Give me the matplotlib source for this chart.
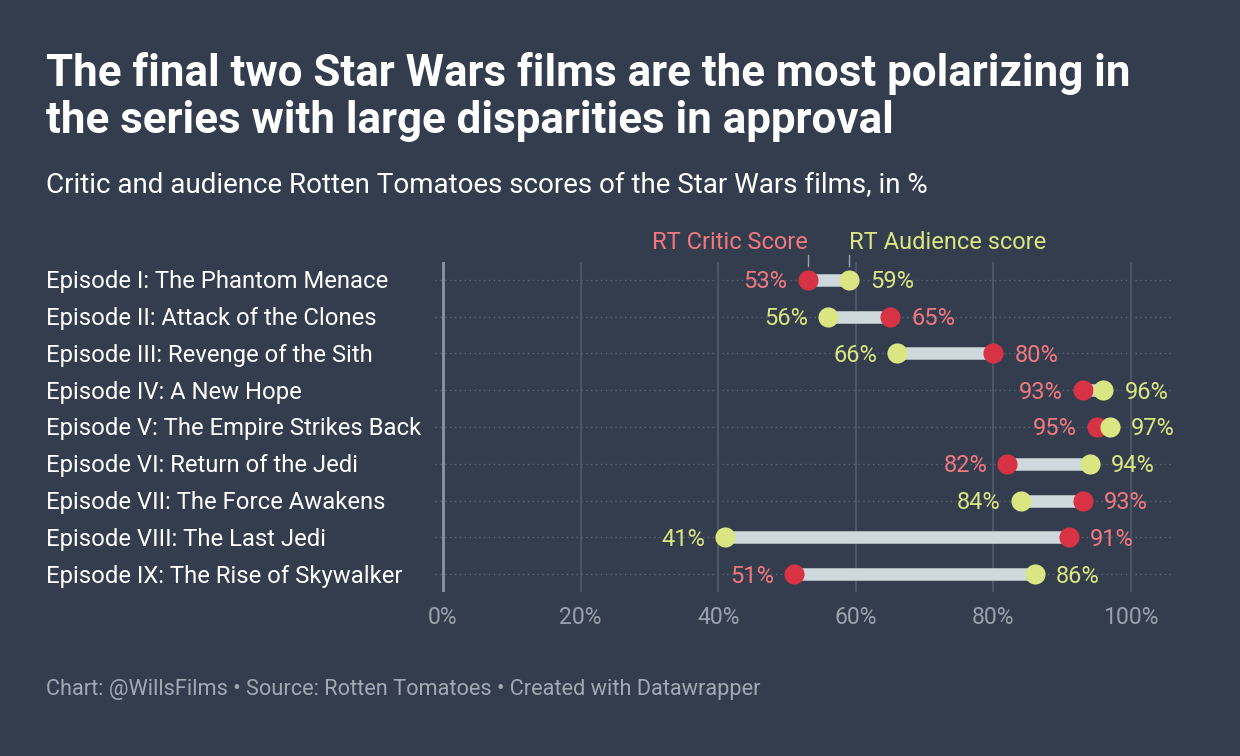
import numpy as np
import matplotlib.pyplot as plt
from matplotlib import transforms

plt.rcParams['font.family'] = ['Roboto', 'DejaVu Sans']

films = ['Episode I: The Phantom Menace', 'Episode II: Attack of the Clones',
         'Episode III: Revenge of the Sith', 'Episode IV: A New Hope',
         'Episode V: The Empire Strikes Back', 'Episode VI: Return of the Jedi',
         'Episode VII: The Force Awakens', 'Episode VIII: The Last Jedi',
         'Episode IX: The Rise of Skywalker']
critic = [53, 65, 80, 93, 95, 82, 93, 91, 51]
audience = [59, 56, 66, 96, 97, 94, 84, 41, 86]
xticks = [0, 20, 40, 60, 80, 100]

bg = '#333d4e'
red = '#d83344'
red_txt = '#f2787f'
yel = '#d9e682'
bar_col = '#cfd8dc'

W, H = 1240, 756
fig = plt.figure(figsize=(W / 100, H / 100), dpi=100, facecolor=bg)

# axes placed in pixel coords
left, right, top, bottom = 435, 1172, 261.6, 592.4
ax = fig.add_axes([left / W, 1 - bottom / H, (right - left) / W, (bottom - top) / H])
ax.set_facecolor(bg)
px_per = (1131 - 443) / 100
ax.set_xlim(-(443 - left) / px_per, (right - 443) / px_per)
ax.set_ylim(8.5, -0.5)
for s in ax.spines.values():
    s.set_visible(False)

y = np.arange(len(films))
for i in y:
    ax.axhline(i, color='#5a6576', lw=1, ls=(0, (1, 2.5)), zorder=0)
for t in xticks:
    ax.axvline(t, color='#8d94a0' if t == 0 else '#4b5565', lw=2 if t == 0 else 1.5, zorder=1)

for i in y:
    c, a = critic[i], audience[i]
    ax.plot([c, a], [i, i], color=bar_col, lw=9, solid_capstyle='butt', zorder=2)
    ax.plot(c, i, 'o', ms=14.5, color=red, mec='none', zorder=3)
    ax.plot(a, i, 'o', ms=14.5, color=yel, mec='none', zorder=4)
    lo, hi = min(c, a), max(c, a)
    lo_col = red_txt if c <= a else yel
    hi_col = yel if c <= a else red_txt
    ax.annotate(f'{lo}%', (lo, i), xytext=(-20, -2), textcoords='offset pixels',
                ha='right', va='center', fontsize=17, color=lo_col)
    ax.annotate(f'{hi}%', (hi, i), xytext=(21, -2), textcoords='offset pixels',
                ha='left', va='center', fontsize=17, color=hi_col)

# film names
trans = transforms.blended_transform_factory(fig.transFigure, ax.transData)
trans = transforms.offset_copy(trans, fig=fig, x=0, y=-2, units='dots')
for i, f in zip(y, films):
    ax.text(46 / W, i, f, transform=trans, ha='left', va='center',
            fontsize=17.2, color='white')

ax.set_yticks([])
ax.set_xticks(xticks)
ax.set_xticklabels([f'{t}%' for t in xticks], color='#9aa1ab', fontsize=16.6)
ax.tick_params(axis='x', length=0, pad=10)

# legend labels on the first row
ax.annotate('RT Critic Score', (critic[0], 0), xytext=(0, 37), textcoords='offset pixels',
            ha='right', va='center', fontsize=17, color=red_txt)
ax.annotate('RT Audience score', (audience[0], 0), xytext=(0, 37), textcoords='offset pixels',
            ha='left', va='center', fontsize=17, color=yel)
for v in (critic[0], audience[0]):
    ax.plot([v, v], [-0.68, -0.38], color='#9aa1ab', lw=1, clip_on=False, zorder=5)

fig.text(46 / W, 1 - 97 / H, 'The final two Star Wars films are the most polarizing in\nthe series with large disparities in approval',
         ha='left', va='center', fontsize=31.6, fontweight='bold', color='white', linespacing=1.17)
fig.text(46 / W, 1 - 186 / H, 'Critic and audience Rotten Tomatoes scores of the Star Wars films, in %',
         ha='left', va='center', fontsize=20, color='white')
fig.text(46 / W, 1 - 689 / H, 'Chart: @WillsFilms • Source: Rotten Tomatoes • Created with Datawrapper',
         ha='left', va='center', fontsize=15.7, color='#a3a9b3')

fig.savefig('out.png', dpi=100, facecolor=bg)
